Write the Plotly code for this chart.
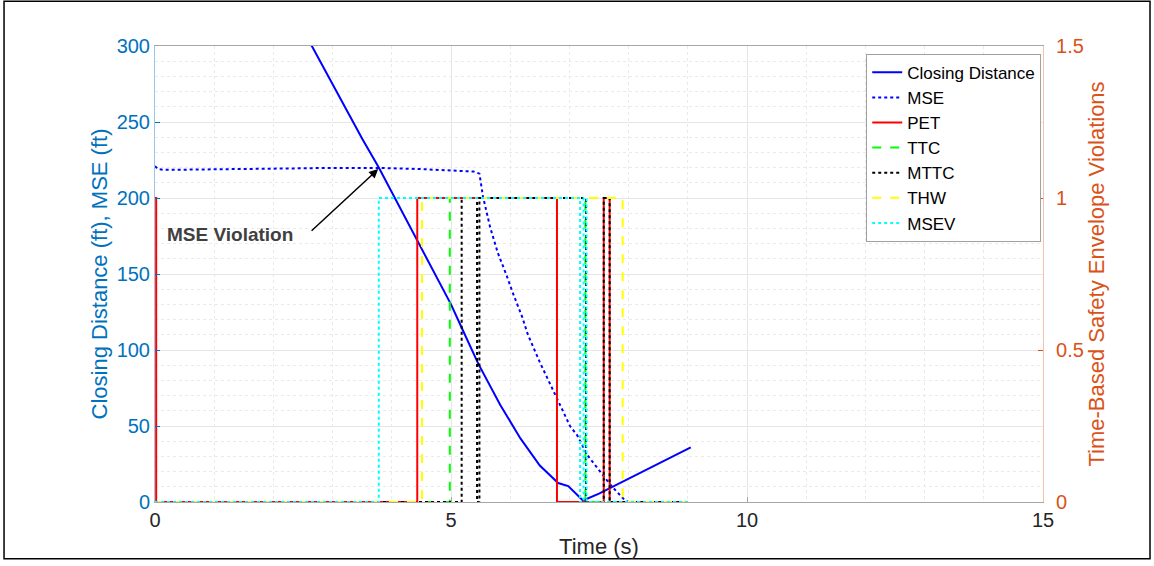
import plotly.graph_objects as go

# Closing distance between vehicles (ft)
cd_t = [0.0, 1.0, 2.0, 2.65, 3.0, 3.5, 3.78, 4.05, 4.5, 4.81, 5.0, 5.2, 5.46, 5.83,
        6.17, 6.5, 6.81, 6.98, 7.1, 7.23, 7.5, 8.0, 8.5, 9.05]
cd_v = [490, 418, 347, 300, 275, 239, 220, 200, 167, 144, 130, 113, 91, 64,
        42, 24, 12.5, 10.5, 6, 1, 5.5, 15.5, 25, 36]

# Minimum safe distance (ft)
mse_t = [0.0, 0.05, 0.15, 1.0, 2.0, 3.0, 3.78, 4.5, 5.0, 5.38, 5.48, 5.54, 5.66, 5.79,
         5.94, 6.04, 6.2, 6.3, 6.5, 6.79, 7.01, 7.13, 7.3, 7.52, 7.7, 7.94, 8.0, 9.0]
mse_v = [221, 219, 218.5, 218.7, 219.3, 219.8, 219.8, 219, 218.2, 217.4, 216, 201, 181, 164,
         149, 138, 122, 110, 92, 68, 50, 44, 31, 20, 11, 1, 0, 0]

# Binary violation flags: value holds from each time until the next one
pet_t = [0.0, 0.02, 4.43, 6.79, 7.58, 7.68, 9.0]
pet_v = [1, 0, 1, 0, 1, 0, 0]

ttc_t = [0.0, 4.98, 7.27, 9.0]
ttc_v = [0, 1, 0, 0]

mttc_t = [0.0, 5.18, 5.44, 5.48, 7.28, 7.58, 7.68, 9.0]
mttc_v = [0, 1, 0, 1, 0, 1, 0, 0]

thw_t = [0.0, 4.51, 7.90, 9.0]
thw_v = [0, 1, 0, 0]

msev_t = [0.0, 3.78, 7.18, 7.24, 7.29, 9.0]
msev_v = [0, 1, 0, 1, 0, 0]

# Axis tick labels
left_ticks = [0, 50, 100, 150, 200, 250, 300]
right_ticks = [0, 0.5, 1, 1.5]
right_labels = ["0", "0.5", "1", "1.5"]
x_ticks = [0, 5, 10, 15]

LEFT_C = "#0072BD"
RIGHT_C = "#D95319"
FONT = "Liberation Sans, Arial, sans-serif"

fig = go.Figure()

fig.add_trace(go.Scatter(x=cd_t, y=cd_v, mode="lines", name="Closing Distance",
                         line=dict(color="#0000FF", width=2)))
fig.add_trace(go.Scatter(x=mse_t, y=mse_v, mode="lines", name="MSE",
                         line=dict(color="#0000FF", width=2, dash="dot")))

steps = [
    ("PET", pet_t, pet_v, "#FF0000", "solid"),
    ("TTC", ttc_t, ttc_v, "#00FF00", "dash"),
    ("MTTC", mttc_t, mttc_v, "#000000", "dot"),
    ("THW", thw_t, thw_v, "#FFFF00", "dash"),
    ("MSEV", msev_t, msev_v, "#00FFFF", "dot"),
]
for name, t, v, c, d in steps:
    fig.add_trace(go.Scatter(x=t, y=v, mode="lines", name=name, yaxis="y2",
                             line=dict(color=c, width=2, dash=d, shape="hv")))

# Annotation pointing at the MSE crossing
fig.add_annotation(x=3.77, y=219, ax=2.62, ay=177.5, xref="x", yref="y",
                   axref="x", ayref="y", text="", showarrow=True,
                   arrowhead=2, arrowsize=1.2, arrowwidth=1.5, arrowcolor="#000000")
fig.add_annotation(x=1.27, y=176.2, xref="x", yref="y", text="<b>MSE Violation</b>",
                   showarrow=False, font=dict(family=FONT, size=19, color="#404040"))

# Outer frame around the whole figure
fig.add_shape(type="rect", xref="paper", yref="paper", x0=-0.170, x1=1.1205,
              y0=-0.1245, y1=1.098, line=dict(color="#000000", width=1.5))

fig.update_layout(
    width=1154, height=566,
    margin=dict(l=155, r=111, t=46, b=62),
    paper_bgcolor="white", plot_bgcolor="white",
    font=dict(family=FONT, size=20, color="#262626"),
    showlegend=True,
    legend=dict(x=0.998, y=0.983, xanchor="right", yanchor="top",
                bgcolor="white", bordercolor="#A0A0A0", borderwidth=1,
                font=dict(family=FONT, size=17, color="#000000"),
                itemwidth=30, tracegroupgap=0),
    xaxis=dict(range=[0, 15], tickvals=x_ticks, showline=True,
               linecolor="#A6A6A6", linewidth=1, mirror=True,
               ticks="inside", ticklen=5, tickcolor="#A6A6A6",
               showgrid=True, gridcolor="#E4E7EA", gridwidth=1, zeroline=False,
               minor=dict(dtick=1, showgrid=True, gridcolor="#EAEAEA", griddash="dot"),
               tickfont=dict(size=20, color="#262626"),
               title=dict(text="Time (s)", font=dict(size=22, color="#262626"), standoff=8)),
    yaxis=dict(range=[0, 300], tickvals=left_ticks,
               showline=True, linecolor="#9CC6E6", linewidth=1,
               ticks="inside", ticklen=5, tickcolor=LEFT_C,
               showgrid=True, gridcolor="#E4E7EA", gridwidth=1, zeroline=False,
               minor=dict(dtick=10, showgrid=True, gridcolor="#EAEAEA", griddash="dot"),
               tickfont=dict(size=20, color=LEFT_C),
               title=dict(text="Closing Distance (ft), MSE (ft)",
                          font=dict(size=22, color=LEFT_C), standoff=2)),
    yaxis2=dict(range=[0, 1.5], tickvals=right_ticks,
                ticktext=["\u2009\u2009" + s for s in right_labels],
                overlaying="y", side="right",
                showline=True, linecolor="#F4C3AE", linewidth=1,
                ticks="inside", ticklen=5, tickcolor=RIGHT_C,
                showgrid=False, zeroline=False,
                tickfont=dict(size=20, color=RIGHT_C),
                title=dict(text="Time-Based Safety Envelope Violations",
                           font=dict(size=22, color=RIGHT_C), standoff=2)),
)

fig.write_html("out.html")
